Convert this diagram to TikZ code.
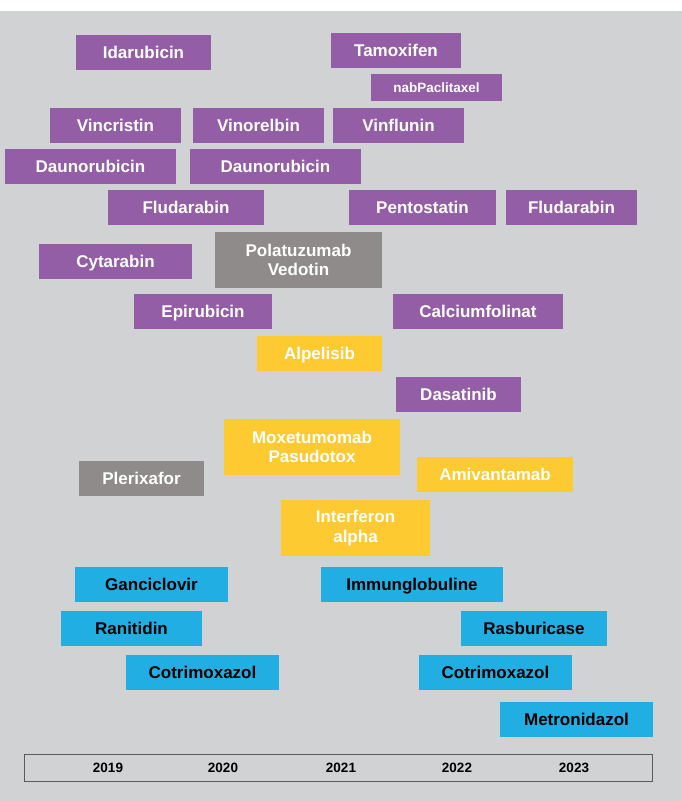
\documentclass[tikz,border=0pt]{standalone}
\usepackage{fontspec}
\setmainfont{Liberation Sans}
\usepackage{tikz}
\usetikzlibrary{positioning}

\definecolor{bggrey}{HTML}{D1D2D4}
\definecolor{chemopurple}{HTML}{935EA6}
\definecolor{boxgrey}{HTML}{8E8B8A}
\definecolor{newyellow}{HTML}{FDCB31}
\definecolor{suppblue}{HTML}{21AEE3}
\definecolor{axisgrey}{HTML}{5A5A5C}

\tikzset{
    drug/.style={
           rectangle,
           draw=none,
           inner sep=0pt,
           minimum height=35pt,
           text height=12.5pt,
           text depth=0pt,
           text centered,
           font=\fontsize{17}{19.5}\selectfont\bfseries,
           },
    chemo/.style={drug, fill=chemopurple, text=white},
    other/.style={drug, fill=boxgrey, text=white},
    targeted/.style={drug, fill=newyellow, text=white},
    support/.style={drug, fill=suppblue, text=black},
    twoline/.style={align=center, text height=, text depth=, minimum height=56pt},
    year/.style={font=\fontsize{13.5}{15}\selectfont\bfseries, text=black, inner sep=0pt},
}

\begin{document}
\begin{tikzpicture}[x=1pt,y=-1pt]
        % page and grey panel
        \useasboundingbox (0,0) rectangle (682,801);
        \fill[white] (0,0) rectangle (682,801);
        \fill[bggrey] (0,11) rectangle (682,801);

        % PURPLE ROWS (top)
        \node[chemo, minimum width=135pt] (IDA) at (143.5,52.5) {Idarubicin};
        \node[chemo, minimum width=130pt] (TAM) at (396,50.5) {Tamoxifen};
        \node[chemo,
            minimum width=131pt,
            minimum height=27pt,
            text height=10pt,
            font=\fontsize{13.5}{15}\selectfont\bfseries] (NAB) at (436.5,87.5) {nabPaclitaxel};

        \node[chemo, minimum width=131pt] (VCR) at (115.5,125.5) {Vincristin};
        \node[chemo, minimum width=131pt] (VNR) at (258.5,125.5) {Vinorelbin};
        \node[chemo, minimum width=131pt] (VFL) at (398.5,125.5) {Vinflunin};

        \node[chemo, minimum width=171pt] (DNR1) at (90.5,166.5) {Daunorubicin};
        \node[chemo, minimum width=171pt] (DNR2) at (275.5,166.5) {Daunorubicin};

        \node[chemo, minimum width=156pt] (FLU1) at (186,207.5) {Fludarabin};
        \node[chemo, minimum width=147pt] (PEN) at (422.5,207.5) {Pentostatin};
        \node[chemo, minimum width=131pt] (FLU2) at (571.5,207.5) {Fludarabin};

        \node[chemo, minimum width=153pt] (ARA) at (115.5,261.5) {Cytarabin};
        % grey box, two lines
        \node[other, twoline,
            minimum width=167pt] (POL) at (298.5,260)
        {Polatuzumab\\Vedotin};

        \node[chemo, minimum width=138pt] (EPI) at (203,311.5) {Epirubicin};
        \node[chemo, minimum width=170pt] (CAF) at (478,311.5) {Calciumfolinat};

        % MIDDLE (yellow / grey / purple)
        \node[targeted, minimum width=125pt] (ALP) at (319.5,353.5) {Alpelisib};
        \node[chemo, minimum width=125pt] (DAS) at (458.5,394.5) {Dasatinib};
        \node[targeted, twoline,
            minimum width=176pt] (MOX) at (312,447)
        {Moxetumomab\\Pasudotox};
        \node[other, minimum width=125pt] (PLX) at (141.5,478.5) {Plerixafor};
        \node[targeted, minimum width=156pt] (AMI) at (495,474.5) {Amivantamab};
        \node[targeted, twoline,
            minimum width=149pt] (IFN) at (355.5,528)
        {Interferon\\alpha};

        % BLUE ROWS (bottom)
        \node[support, minimum width=153pt] (GCV) at (151.5,584.5) {Ganciclovir};
        \node[support, minimum width=182pt] (IGG) at (412,584.5) {Immunglobuline};
        \node[support, minimum width=141pt] (RAN) at (131.5,628.5) {Ranitidin};
        \node[support, minimum width=146pt] (RAS) at (534,628.5) {Rasburicase};
        \node[support, minimum width=153pt] (COT1) at (202.5,672.5) {Cotrimoxazol};
        \node[support, minimum width=153pt] (COT2) at (495.5,672.5) {Cotrimoxazol};
        \node[support, minimum width=153pt] (MTZ) at (576.5,719.5) {Metronidazol};

        % TIME AXIS
        \node[draw=axisgrey, line width=1pt,
            minimum width=628pt, minimum height=27pt,
            inner sep=0pt] (AXIS) at (338,767.5) {};
        \node[year] (Y2019) at (108,767.5) {2019};
        \node[year] (Y2020) at (223,767.5) {2020};
        \node[year] (Y2021) at (341,767.5) {2021};
        \node[year] (Y2022) at (457,767.5) {2022};
        \node[year] (Y2023) at (574,767.5) {2023};

\end{tikzpicture}
\end{document}
